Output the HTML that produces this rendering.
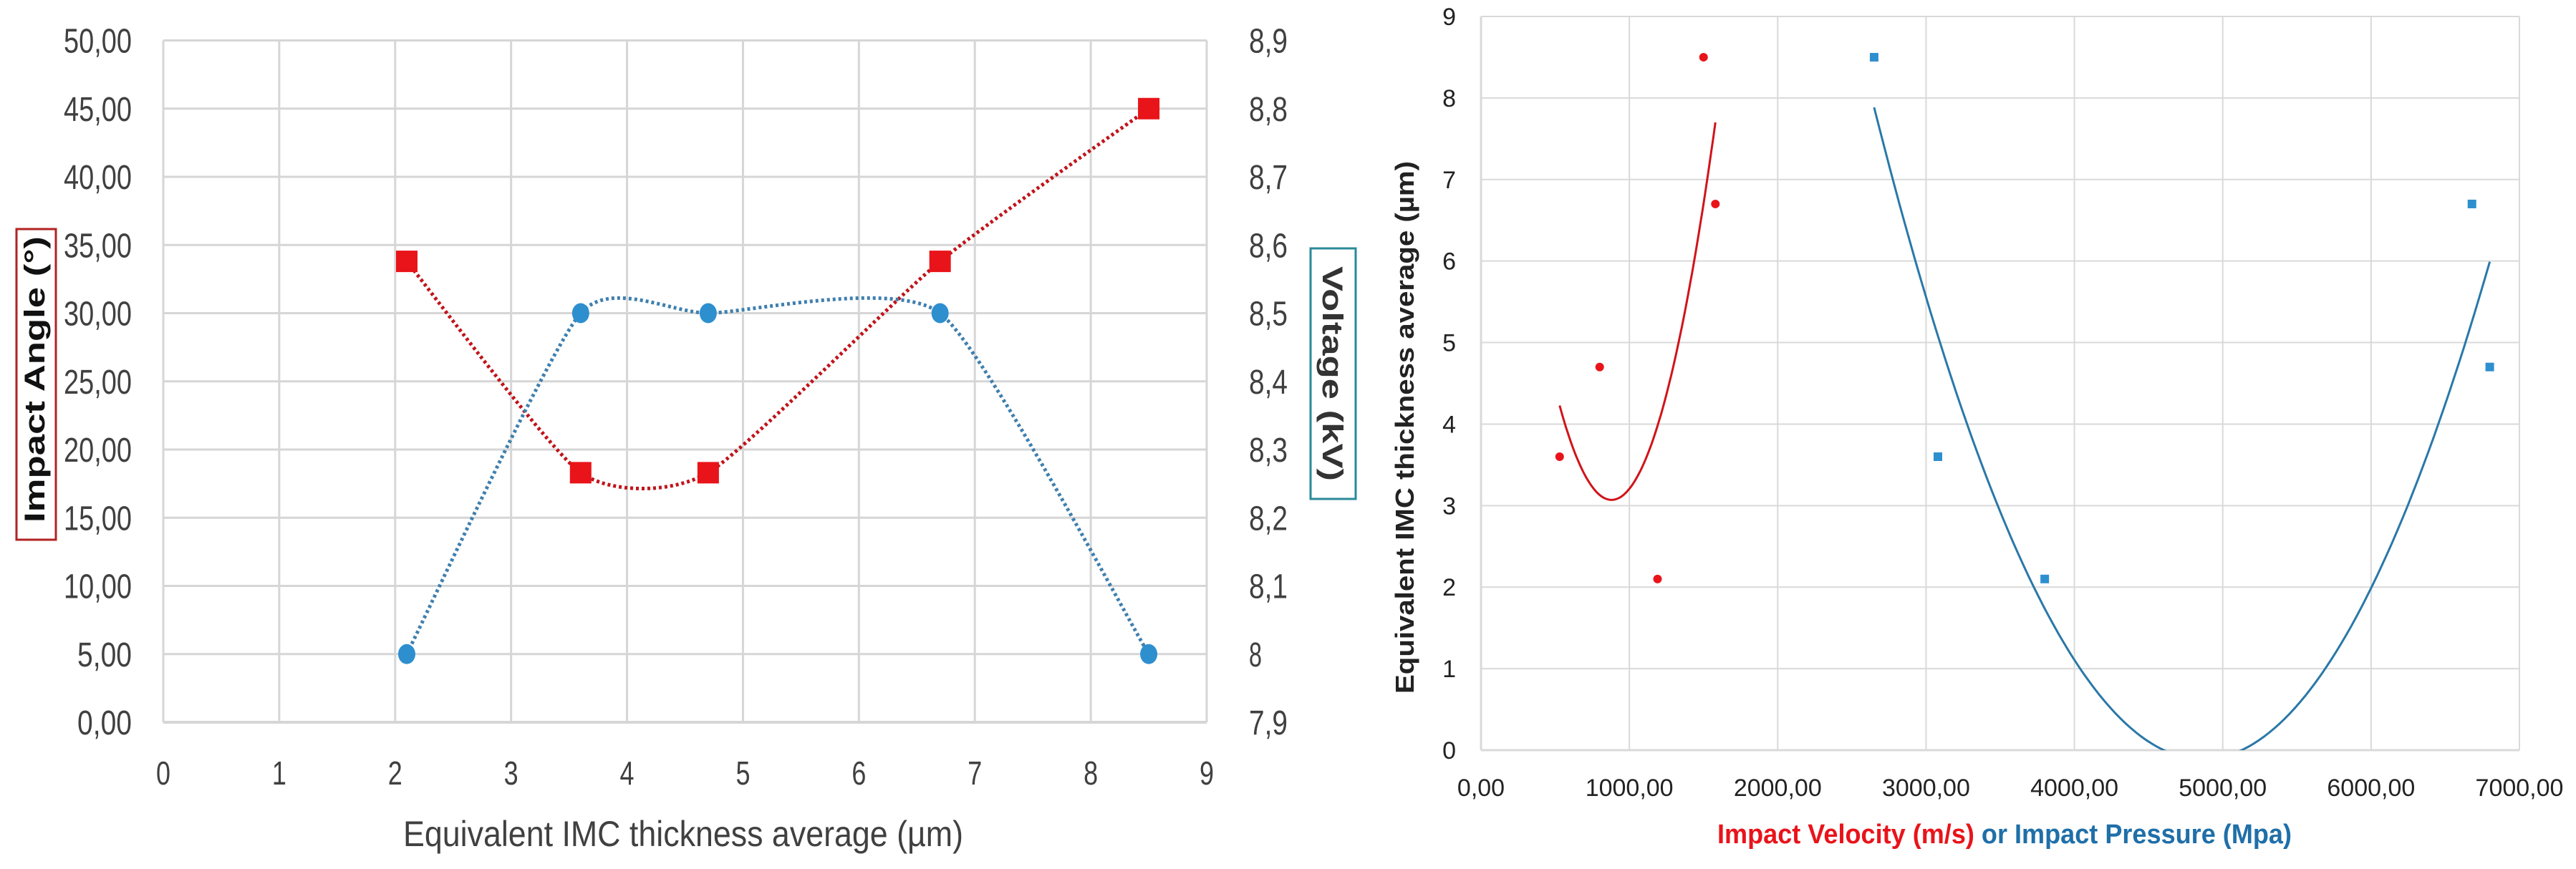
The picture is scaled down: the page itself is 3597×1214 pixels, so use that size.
<!DOCTYPE html>
<html><head><meta charset="utf-8"><style>
html,body{margin:0;padding:0;background:#fff;}
svg{display:block;}
</style></head><body>
<svg id="s" width="3597" height="1214" xmlns="http://www.w3.org/2000/svg" font-family="'Liberation Sans', sans-serif">
<rect width="3597" height="1214" fill="#fff"/>
<g id="left"></g>
<g id="right"></g>
<defs><clipPath id="rclip"><rect x="2068" y="23" width="1450" height="1025"/></clipPath></defs>
</svg>
<script>
// ---------- LEFT CHART DATA ----------
const leftX = [2.1, 3.6, 4.7, 6.7, 8.5];
const angleVals = [33.8, 18.3, 18.3, 33.8, 45.0];
const voltageVals = [8.0, 8.5, 8.5, 8.5, 8.0];
const leftXTicks = [0,1,2,3,4,5,6,7,8,9];
const leftYTicks = ['0,00','5,00','10,00','15,00','20,00','25,00','30,00','35,00','40,00','45,00','50,00'];
const leftY2Ticks = ['7,9','8','8,1','8,2','8,3','8,4','8,5','8,6','8,7','8,8','8,9'];
// ---------- RIGHT CHART DATA ----------
const velocityX = [530, 800, 1190, 1500, 1580];
const velocityY = [3.6, 4.7, 2.1, 8.5, 6.7];
const pressureX = [2650, 3080, 3800, 6680, 6800];
const pressureY = [8.5, 3.6, 2.1, 6.7, 4.7];
const velocityTrend = [9.45e-6, 880, 3.07, 530, 1580];      // a, vertex x, vertex y, from, to
const pressureTrend = [1.63e-6, 4865, -0.112, 2650, 6800];
const rightXTicks = ['0,00','1000,00','2000,00','3000,00','4000,00','5000,00','6000,00','7000,00'];
const rightYTicks = [0,1,2,3,4,5,6,7,8,9];

const NS='http://www.w3.org/2000/svg';
function mk(parent, tag, attrs, text){
  const e=document.createElementNS(NS,tag);
  for(const k in attrs) e.setAttribute(k,attrs[k]);
  if(text!==undefined) e.textContent=text;
  parent.appendChild(e); return e;
}
function smooth(pts){
  let d='M'+pts[0][0]+','+pts[0][1];
  const t=1/10;
  for(let i=0;i<pts.length-1;i++){
    const p0=pts[Math.max(i-1,0)],p1=pts[i],p2=pts[i+1],p3=pts[Math.min(i+2,pts.length-1)];
    d+=' C'+(p1[0]+(p2[0]-p0[0])*t)+','+(p1[1]+(p2[1]-p0[1])*t)+' '+(p2[0]-(p3[0]-p1[0])*t)+','+(p2[1]-(p3[1]-p1[1])*t)+' '+p2[0]+','+p2[1];
  }
  return d;
}

// ---------- LEFT ----------
const L=document.getElementById('left');
const lx=v=>228+(1685-228)*v/9;
const ly=v=>1009-(1009-56.5)*v/50;
const ly2=v=>ly((v-7.9)*50);
leftXTicks.forEach(t=>{
  const g=mk(L,'line',{x1:lx(t),x2:lx(t),y1:56.5,y2:1009,stroke:'#d6d6d6','stroke-width':3});
  
  
  const tx=mk(L,'text',{x:lx(t),y:1096,'font-size':46,fill:'#404040','text-anchor':'middle',textLength:20,lengthAdjust:'spacingAndGlyphs'},t);
  
  
});
leftYTicks.forEach((t,i)=>{
  const g=mk(L,'line',{x1:228,x2:1685,y1:ly(i*5),y2:ly(i*5),stroke:'#d6d6d6','stroke-width':i==0?4:3});
  
  
  const tx=mk(L,'text',{x:184,y:ly(i*5)+17,'font-size':48,fill:'#404040','text-anchor':'end',textLength:t.length*19,lengthAdjust:'spacingAndGlyphs'},t);
  
  
});
leftY2Ticks.forEach((t,i)=>{
  const tx=mk(L,'text',{x:1744,y:ly(i*5)+17,'font-size':48,fill:'#404040',textLength:t.length*18,lengthAdjust:'spacingAndGlyphs'},t);
  
  
});
const aPath=mk(L,'path',{d:smooth(leftX.map((x,i)=>[lx(x),ly(angleVals[i])])),fill:'none',stroke:'#c0141a','stroke-width':5,'stroke-dasharray':'4 4'});


const vPath=mk(L,'path',{d:smooth(leftX.map((x,i)=>[lx(x),ly2(voltageVals[i])])),fill:'none',stroke:'#3f7fae','stroke-width':5,'stroke-dasharray':'4 4'});


leftX.forEach((x,i)=>{
  const r=mk(L,'rect',{x:lx(x)-15,y:ly(angleVals[i])-15,width:30,height:30,fill:'#e8141a'});
  
  
  const c=mk(L,'ellipse',{cx:lx(x),cy:ly2(voltageVals[i]),rx:12,ry:14,fill:'#2e8fcf'});
  
  
});
const xt=mk(L,'text',{x:563,y:1182,'font-size':50,fill:'#404040',textLength:782,lengthAdjust:'spacingAndGlyphs'},'Equivalent IMC thickness average (µm)');


const ab=mk(L,'rect',{x:23,y:320,width:55,height:434,fill:'#fff',stroke:'#b22222','stroke-width':3});


const at=mk(L,'text',{x:0,y:0,'font-size':40,'font-weight':'bold',fill:'#111',transform:'translate(62,730) rotate(-90)',textLength:400,lengthAdjust:'spacingAndGlyphs'},'Impact  Angle  (°)');



// ---------- RIGHT ----------
const R=document.getElementById('right');
const rx=v=>2068+(3518-2068)*v/7000;
const ry=v=>1048-(1048-23)*v/9;
rightXTicks.forEach((t,i)=>{
  const g=mk(R,'line',{x1:rx(i*1000),x2:rx(i*1000),y1:23,y2:1048,stroke:'#d9d9d9','stroke-width':i==0?3:2});
  
  
  const tx=mk(R,'text',{x:rx(i*1000),y:1112,'font-size':34,fill:'#222','text-anchor':'middle'},t);
  
  
});
rightYTicks.forEach(t=>{
  const g=mk(R,'line',{x1:2068,x2:3518,y1:ry(t),y2:ry(t),stroke:'#d9d9d9','stroke-width':t==0?3:2});
  
  
  const tx=mk(R,'text',{x:2033,y:ry(t)+12,'font-size':34,fill:'#222','text-anchor':'end'},t);
  
  
});
function trend(c){
  const pts=[];
  for(let k=0;k<=120;k++){const x=c[3]+(c[4]-c[3])*k/120;pts.push(rx(x).toFixed(1)+','+ry(c[0]*(x-c[1])*(x-c[1])+c[2]).toFixed(1));}
  return 'M'+pts.join(' L');
}
const vt=mk(R,'path',{d:trend(velocityTrend),fill:'none',stroke:'#d0141a','stroke-width':3,'clip-path':'url(#rclip)'});


const pt=mk(R,'path',{d:trend(pressureTrend),fill:'none',stroke:'#2a78a8','stroke-width':3,'clip-path':'url(#rclip)'});


velocityX.forEach((x,i)=>{
  const c=mk(R,'circle',{cx:rx(x),cy:ry(velocityY[i]),r:6,fill:'#e8141a'});
  
  
});
pressureX.forEach((x,i)=>{
  const r=mk(R,'rect',{x:rx(x)-6,y:ry(pressureY[i])-6,width:12,height:12,fill:'#2e8fcf'});
  
  
});
const yt=mk(R,'text',{x:0,y:0,'font-size':36,'font-weight':'bold',fill:'#222','text-anchor':'middle',transform:'translate(1974,597) rotate(-90)',textLength:744,lengthAdjust:'spacingAndGlyphs'},'Equivalent IMC thickness average (µm)');


const xtt=mk(R,'text',{x:2398,y:1178,'font-size':38,'font-weight':'bold','textLength':802,lengthAdjust:'spacingAndGlyphs'});


mk(xtt,'tspan',{fill:'#e8141a'},'Impact Velocity (m/s) ');
mk(xtt,'tspan',{fill:'#1f6fa8'},'or Impact Pressure (Mpa)');
const vb=mk(R,'rect',{x:1830,y:347,width:63,height:350,fill:'#fff',stroke:'#2a8a9a','stroke-width':3});


const vtt=mk(R,'text',{x:0,y:0,'font-size':40,'font-weight':'bold',fill:'#333','text-anchor':'middle',transform:'translate(1847,522) rotate(90)',textLength:300,lengthAdjust:'spacingAndGlyphs'},'Voltage  (kV)');


</script>
</body></html>
